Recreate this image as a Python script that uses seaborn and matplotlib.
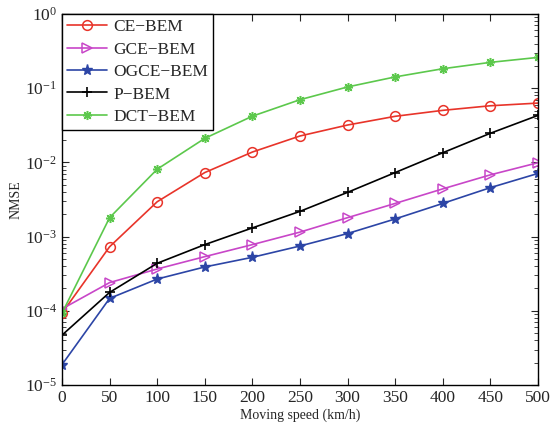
import numpy as np
import pandas as pd
import matplotlib
matplotlib.use("Agg")
import matplotlib.pyplot as plt
import seaborn as sns
from matplotlib.ticker import LogLocator, NullFormatter

speed = [0, 50, 100, 150, 200, 250, 300, 350, 400, 450, 500]
ce_bem = [9.3e-5, 7.3e-4, 2.95e-3, 7.3e-3, 1.38e-2, 2.27e-2, 3.19e-2, 4.18e-2, 5.03e-2, 5.8e-2, 6.3e-2]
gce_bem = [1.06e-4, 2.4e-4, 3.66e-4, 5.37e-4, 7.8e-4, 1.15e-3, 1.8e-3, 2.8e-3, 4.4e-3, 6.8e-3, 9.9e-3]
ogce_bem = [1.88e-5, 1.47e-4, 2.68e-4, 3.9e-4, 5.26e-4, 7.47e-4, 1.1e-3, 1.73e-3, 2.8e-3, 4.57e-3, 7.1e-3]
p_bem = [4.7e-5, 1.77e-4, 4.37e-4, 7.8e-4, 1.31e-3, 2.19e-3, 3.95e-3, 7.3e-3, 1.35e-2, 2.47e-2, 4.3e-2]
dct_bem = [9.3e-5, 1.8e-3, 8.1e-3, 2.11e-2, 4.2e-2, 7.0e-2, 1.04e-1, 1.42e-1, 1.83e-1, 2.23e-1, 2.6e-1]
names = ["CE\u2212BEM", "GCE\u2212BEM", "OGCE\u2212BEM", "P\u2212BEM", "DCT\u2212BEM"]

sns.set_style("ticks")
plt.rcParams['font.family'] = ['Liberation Serif', 'DejaVu Serif']
plt.rcParams['mathtext.fontset'] = 'stix'

fig = plt.figure(figsize=(5.52, 4.29), dpi=100)
ax = fig.add_axes([62/552, 1-385/429, (538-62)/552, (385-14)/429])

styles = [
    dict(color="#e8342a", marker="o", mfc="none", mec="#e8342a", ms=7, mew=1.1),
    dict(color="#c846c8", marker=">", mfc="none", mec="#c846c8", ms=7, mew=1.1),
    dict(color="#2c45a6", marker="*", mfc="#2c45a6", mec="#2c45a6", ms=8, mew=1.0),
    dict(color="black", marker="+", mec="black", ms=6.5, mew=1.2),
    dict(color="#5cc84c", marker=(8, 2, 0), mec="#5cc84c", ms=6.5, mew=1.1),
]
series = [ce_bem, gce_bem, ogce_bem, p_bem, dct_bem]
for name, vals, st in zip(names, series, styles):
    df = pd.DataFrame({"speed": speed, "nmse": vals})
    sns.lineplot(data=df, x="speed", y="nmse", ax=ax, label=name, lw=1.2, **st)

ax.set_yscale("log")
ax.set_xlim(0, 500)
ax.set_ylim(1e-5, 1)
ax.set_xticks(speed)
ax.set_yticks([1e-5, 1e-4, 1e-3, 1e-2, 1e-1, 1])
ax.yaxis.set_minor_locator(LogLocator(base=10, subs=np.arange(2, 10)))
ax.yaxis.set_minor_formatter(NullFormatter())
ax.tick_params(axis="both", which="both", direction="in", top=True, right=True, labelsize=12.5)
ax.tick_params(which="major", length=5, width=0.8)
ax.tick_params(which="minor", length=3, width=0.6)
for s in ax.spines.values():
    s.set_linewidth(1.0)
    s.set_color("black")
ax.set_xlabel("Moving speed (km/h)", fontsize=10, labelpad=2)
ax.set_ylabel("NMSE", fontsize=10, labelpad=2)

leg = ax.legend(loc="upper left", borderaxespad=0, fontsize=12.5, frameon=True,
                fancybox=False, edgecolor="black", framealpha=1,
                handlelength=2.3, handletextpad=0.35, labelspacing=0.36, borderpad=0.3)
leg.get_frame().set_linewidth(1.0)

fig.savefig("out.png", dpi=100)
